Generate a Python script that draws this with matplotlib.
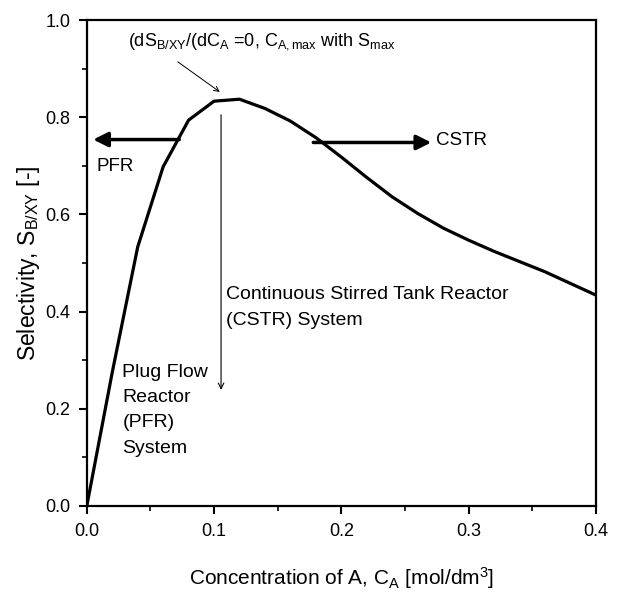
import matplotlib
matplotlib.use("Agg")
import matplotlib.pyplot as plt
from matplotlib.ticker import MultipleLocator

plt.rcParams['font.family'] = ['Liberation Sans', 'DejaVu Sans']
plt.rcParams['mathtext.fontset'] = 'custom'
plt.rcParams['mathtext.rm'] = 'Liberation Sans'
plt.rcParams['mathtext.it'] = 'Liberation Sans:italic'

# Selectivity curve
conc = [0.0, 0.02, 0.04, 0.06, 0.08, 0.10, 0.12, 0.14, 0.16, 0.18, 0.20,
        0.22, 0.24, 0.26, 0.28, 0.30, 0.32, 0.34, 0.36, 0.38, 0.40]
selectivity = [0.0, 0.275, 0.533, 0.698, 0.794, 0.833, 0.837, 0.818, 0.792,
               0.758, 0.718, 0.676, 0.636, 0.602, 0.572, 0.547, 0.524,
               0.503, 0.482, 0.458, 0.434]

xticks = [0.0, 0.1, 0.2, 0.3, 0.4]
yticks = [0.0, 0.2, 0.4, 0.6, 0.8, 1.0]

fig = plt.figure(figsize=(6.2, 5.92), dpi=100)
ax = fig.add_axes([0.140, 0.1453, 0.821, 0.8209])

ax.plot(conc, selectivity, color='black', lw=2.3)

ax.set_xlim(0, 0.4)
ax.set_ylim(0, 1.0)
ax.set_xticks(xticks)
ax.set_yticks(yticks)
ax.set_xticklabels(['%.1f' % v for v in xticks])
ax.set_yticklabels(['%.1f' % v for v in yticks])
ax.xaxis.set_minor_locator(MultipleLocator(0.05))
ax.yaxis.set_minor_locator(MultipleLocator(0.1))
ax.tick_params(which='major', direction='out', length=6, width=1.5, labelsize=13, pad=6)
ax.tick_params(which='minor', direction='out', length=3.5, width=1.2)
ax.tick_params(top=False, right=False)
for s in ax.spines.values():
    s.set_linewidth(1.6)

ax.set_xlabel(r'Concentration of A, C$_{\mathregular{A}}$ [mol/dm$^{\mathregular{3}}$]', fontsize=15, labelpad=18)
ax.set_ylabel(r'Selectivity, S$_{\mathregular{B/XY}}$ [-]', fontsize=16.5, labelpad=2)

# thick arrows
ax.annotate('', xy=(0.005, 0.754), xytext=(0.0727, 0.754),
            arrowprops=dict(arrowstyle='-|>', color='black', lw=2.5,
                            mutation_scale=22, shrinkA=0, shrinkB=0))
ax.annotate('', xy=(0.2707, 0.748), xytext=(0.178, 0.748),
            arrowprops=dict(arrowstyle='-|>', color='black', lw=2.5,
                            mutation_scale=22, shrinkA=0, shrinkB=0))
ax.text(0.008, 0.698, 'PFR', fontsize=13.5, va='center', ha='left')
ax.text(0.2745, 0.753, 'CSTR', fontsize=13.5, va='center', ha='left')

# thin arrows
ax.annotate('', xy=(0.1055, 0.239), xytext=(0.1055, 0.805),
            arrowprops=dict(arrowstyle='->', color='black', lw=0.8,
                            mutation_scale=10, shrinkA=0, shrinkB=0))
ax.annotate('', xy=(0.1045, 0.852), xytext=(0.0715, 0.914),
            arrowprops=dict(arrowstyle='->', color='black', lw=0.7,
                            mutation_scale=9, shrinkA=0, shrinkB=0))

ax.text(0.032, 0.956,
        r'(dS$_{\mathregular{B/XY}}$/(dC$_{\mathregular{A}}$ =0, C$_{\mathregular{A,max}}$ with S$_{\mathregular{max}}$',
        fontsize=13, va='center', ha='left')
ax.text(0.109, 0.408, 'Continuous Stirred Tank Reactor\n(CSTR) System',
        fontsize=14, va='center', ha='left', linespacing=1.65)
ax.text(0.028, 0.197, 'Plug Flow\nReactor\n(PFR)\nSystem',
        fontsize=14, va='center', ha='left', linespacing=1.65)

fig.savefig('out.png', dpi=100)
